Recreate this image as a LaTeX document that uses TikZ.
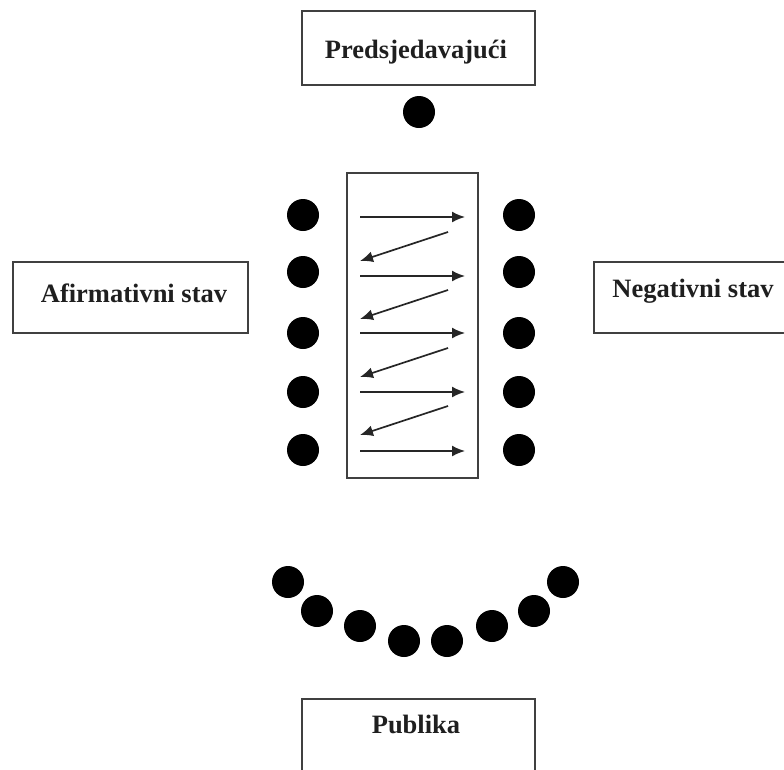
\documentclass[tikz,border=0pt]{standalone}
\usepackage{fontspec}
\setmainfont{Liberation Serif}
\usetikzlibrary{arrows.meta}
\begin{document}
\begin{tikzpicture}[x=1pt,y=-1pt,
  box/.style={draw=black!75, line width=1.6pt, fill=white, inner sep=0pt},
  lbl/.style={font=\fontsize{26.5}{30}\selectfont\bfseries, anchor=base, inner sep=0pt, text=black!88},
  seat/.style={circle, fill=black, minimum size=32pt, inner sep=0pt},
  arr/.style={line width=1.7pt, draw=black!85, -{Latex[length=13pt,width=11pt]}}]
\useasboundingbox (0,0) rectangle (784,769);
\clip (0,0) rectangle (784,769);
% boxes
\node[box, minimum width=233pt, minimum height=74pt] (chair) at (418.5,48) {};
\node[lbl] (chairlbl) at (416,58) {Predsjedavajući};
\node[box, minimum width=235pt, minimum height=71pt] (aff) at (130.5,297.5) {};
\node[lbl] (afflbl) at (134,302) {Afirmativni stav};
\node[box, minimum width=206pt, minimum height=71pt] (neg) at (697,297.5) {};
\node[lbl] (neglbl) at (693,297) {Negativni stav};
\node[box, minimum width=233pt, minimum height=91pt] (pub) at (418.5,744.5) {};
\node[lbl] (publbl) at (416,733) {Publika};
\node[box, minimum width=131pt, minimum height=305pt] (table) at (412.5,325.5) {};
% seats
\node[seat] (chairseat) at (419,112) {};
\foreach \i/\y in {1/215,2/272,3/333,4/392,5/450}{
  \node[seat] (aff\i) at (303,\y) {};
  \node[seat] (neg\i) at (519,\y) {};
}
\foreach \i/\x/\y in {1/288/582,2/317/611,3/360/626,4/404/641,5/447/641,6/492/626,7/534/611,8/563/582}{
  \node[seat] (aud\i) at (\x,\y) {};
}
% speaking order arrows
\foreach \i/\y in {1/217,2/276,3/333,4/392,5/451}{
  \coordinate (rs\i) at (360,\y);
  \coordinate (re\i) at (465,\y);
  \draw[arr] (rs\i) -- (re\i);
}
\foreach \i/\ys/\ye in {1/232/261,2/290/319,3/348/377,4/406/435}{
  \coordinate (ls\i) at (448,\ys);
  \coordinate (le\i) at (360,\ye);
  \draw[arr] (ls\i) -- (le\i);
}
\end{tikzpicture}
\end{document}
